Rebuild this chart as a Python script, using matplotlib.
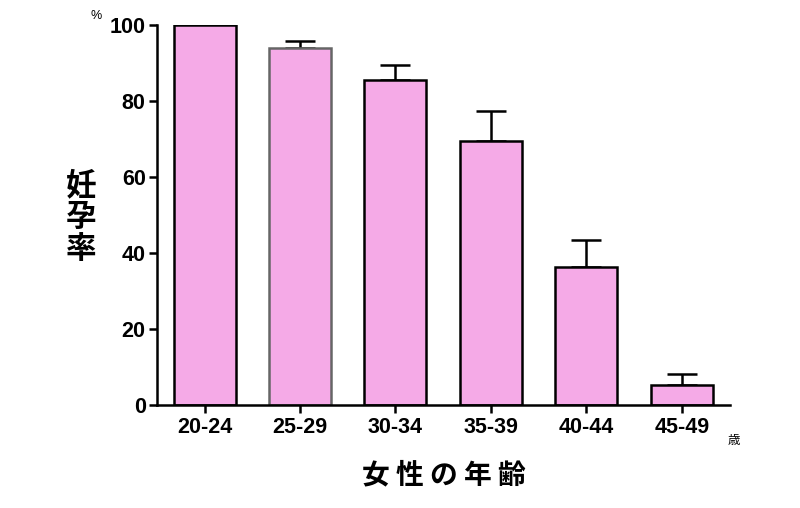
import matplotlib.pyplot as plt

plt.rcParams['font.family'] = ['Liberation Sans', 'Noto Sans CJK JP', 'DejaVu Sans']

# 年齢階級ごとの妊孕率 (%)
age_groups = ["20-24", "25-29", "30-34", "35-39", "40-44", "45-49"]
fertility = [100, 93.9, 85.5, 69.5, 36.3, 5.3]
err_upper = [0, 1.9, 4.0, 7.9, 7.1, 2.9]
edge_colors = ["black", "#666666", "black", "black", "black", "black"]

fig = plt.figure(figsize=(8, 5.08), dpi=100)
ax = fig.add_axes([0.196, 0.203, 0.716, 0.748])

x = list(range(len(age_groups)))
ax.bar(x, fertility, width=0.65, color="#F5AAE7", edgecolor=edge_colors,
       linewidth=1.8, zorder=2)
ax.errorbar(x, fertility, yerr=[[0] * len(x), err_upper], fmt="none",
            ecolor="black", elinewidth=1.8, capsize=11, capthick=1.8, zorder=1)

ax.set_xlim(-0.5, 5.5)
ax.set_ylim(0, 100)
ax.set_yticks([0, 20, 40, 60, 80, 100])
ax.set_xticks(x)
ax.set_xticklabels(age_groups)

ax.spines["top"].set_visible(False)
ax.spines["right"].set_visible(False)
ax.spines["left"].set_linewidth(1.8)
ax.spines["bottom"].set_linewidth(1.8)
ax.tick_params(axis="both", width=1.8, length=6, labelsize=15.5)
ax.tick_params(axis="x", pad=3)
ax.tick_params(axis="y", pad=2)
for lab in ax.get_xticklabels() + ax.get_yticklabels():
    lab.set_fontweight("bold")

fig.text(0.101, 0.573, "妊\n孕\n率", fontsize=22, fontweight="bold",
         family=["Noto Sans CJK JP"], ha="center", va="center", linespacing=1.0)
fig.text(0.555, 0.065, "女 性 の 年 齢", fontsize=20, fontweight="bold",
         family=["Noto Sans CJK JP"], ha="center", va="center")
fig.text(0.12, 0.968, "%", fontsize=9, ha="center", va="center")
fig.text(0.917, 0.133, "歳", fontsize=9, family=["Noto Sans CJK JP"],
         ha="center", va="center")

fig.savefig("out.png", dpi=100)
